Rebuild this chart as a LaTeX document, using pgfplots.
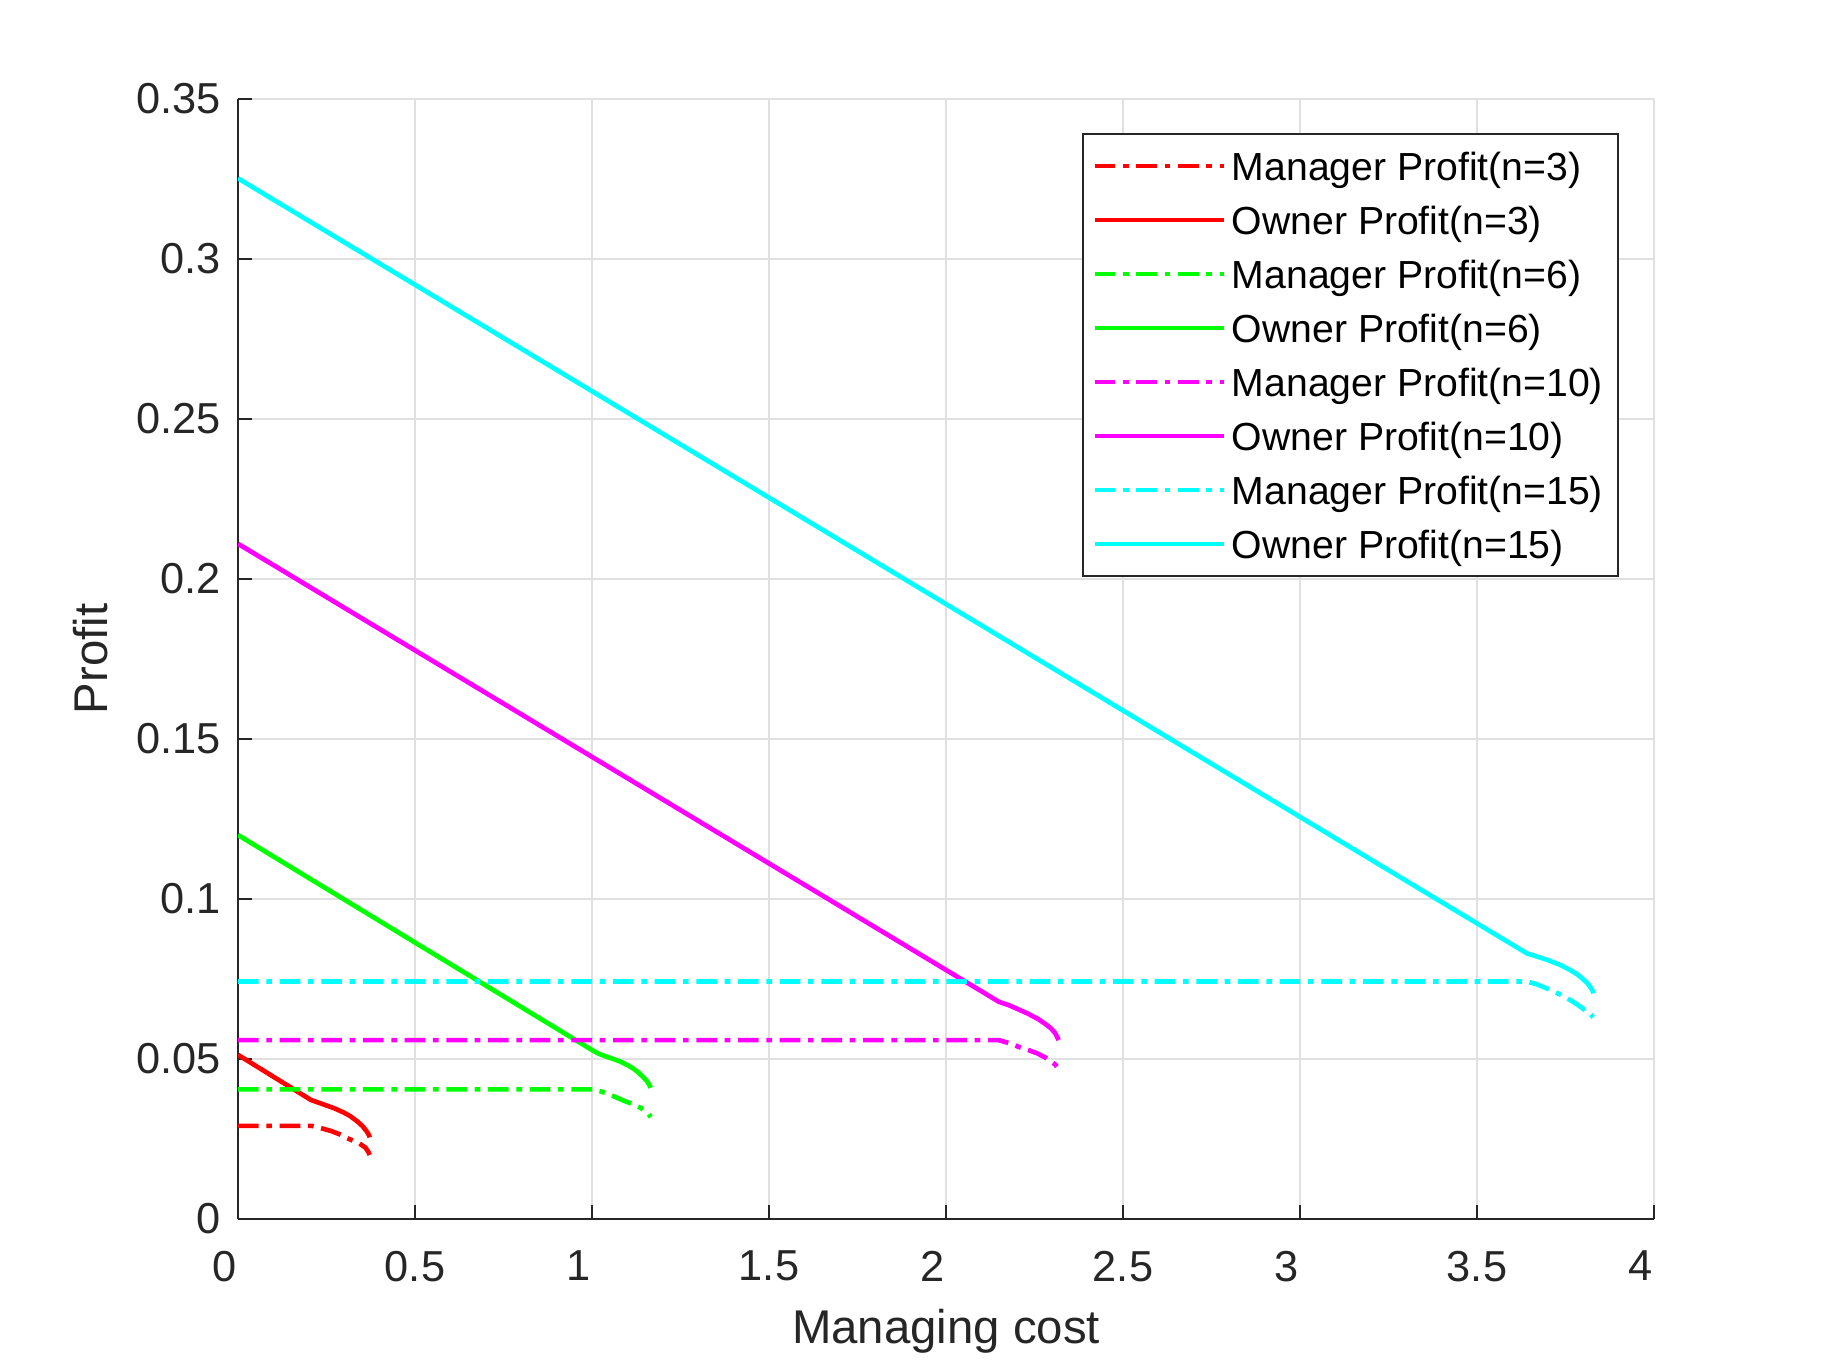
\documentclass[border=0pt]{standalone}
\usepackage{pgfplots}
\pgfplotsset{compat=1.18}
\usepackage{fontspec}
\setmainfont{Liberation Sans}

\definecolor{axgray}{gray}{0.15}
\definecolor{gridgray}{gray}{0.88}
\definecolor{mred}{rgb}{1,0,0}
\definecolor{mgreen}{rgb}{0,1,0}
\definecolor{mmag}{rgb}{1,0,1}
\definecolor{mcyan}{rgb}{0,1,1}

\pgfplotsset{
  mgr/.style={line width=1.4pt, dash pattern=on 6.2pt off 2.3pt on 1.7pt off 2.3pt},
  own/.style={line width=1.4pt, solid},
}

\begin{document}
\begin{tikzpicture}
\begin{axis}[
  scale only axis,
  width=424.8pt, height=336pt,
  xmin=0, xmax=4, ymin=0, ymax=0.35,
  xtick={0,0.5,1,1.5,2,2.5,3,3.5,4},
  xticklabels={0\hspace*{8pt},0.5,1\hspace*{8pt},1.5,2\hspace*{8pt},2.5,3\hspace*{8pt},3.5,4\hspace*{8pt}},
  ytick={0,0.05,0.1,0.15,0.2,0.25,0.3,0.35},
  yticklabels={0,0.05,0.1,0.15,0.2,0.25,0.3,0.35},
  scaled ticks=false,
  axis x line*=bottom, axis y line*=left,
  axis line style={axgray, line width=0.6pt, -},
  tick style={axgray, line width=0.6pt},
  major tick length=4.3pt, tick align=inside,
  grid=major,
  major grid style={gridgray, line width=0.6pt},
  ticklabel style={font=\fontsize{13}{15}\selectfont, text=axgray},
  yticklabel style={xshift=-1.7pt},
  xticklabel style={yshift=-6pt},
  xlabel={Managing cost},
  ylabel={Profit},
  label style={font=\fontsize{14.2}{17}\selectfont, text=axgray},
  xlabel style={at={(axis description cs:0.5,-0.0699)}, anchor=north},
  ylabel style={at={(axis description cs:-0.0837,0.5)}, anchor=south},
  legend cell align=left,
  legend style={at={(axis description cs:0.9753,0.9700)}, anchor=north east,
    draw=axgray, line width=0.6pt, fill=white,
    font=\fontsize{11.75}{14}\selectfont,
    inner xsep=2.8pt, inner ysep=1.6pt,
    nodes={inner xsep=1.7pt, inner ysep=2.3pt, text height=10.2pt, text depth=1.4pt}},
  legend image code/.code={\draw[#1] (0pt,0pt) -- (38.8pt,0pt);},
]
\addplot[mred, mgr] coordinates {(0,0.0291) (0.208,0.0291) (0.234,0.0284) (0.263,0.0275) (0.291,0.0263) (0.314,0.0250) (0.343,0.0236) (0.360,0.0223) (0.368,0.0210) (0.372,0.0200)};
\addlegendentry{Manager Profit(n=3)}
\addplot[mred, own] coordinates {(0,0.0513) (0.206,0.0372) (0.239,0.0359) (0.272,0.0346) (0.300,0.0332) (0.319,0.0320) (0.338,0.0304) (0.352,0.0290) (0.364,0.0273) (0.370,0.0262) (0.372,0.0255)};
\addlegendentry{Owner Profit(n=3)}
\addplot[mgreen, mgr] coordinates {(0,0.0405) (1.0,0.0405) (1.028,0.0398) (1.060,0.0384) (1.089,0.0370) (1.115,0.0359) (1.136,0.0348) (1.150,0.0338) (1.160,0.0328) (1.166,0.0318)};
\addlegendentry{Manager Profit(n=6)}
\addplot[mgreen, own] coordinates {(0,0.120) (1.0,0.0528) (1.020,0.0516) (1.042,0.0507) (1.060,0.0500) (1.080,0.0492) (1.100,0.0481) (1.118,0.0469) (1.132,0.0457) (1.145,0.0443) (1.155,0.0431) (1.162,0.0419) (1.166,0.0410)};
\addlegendentry{Owner Profit(n=6)}
\addplot[mmag, mgr] coordinates {(0,0.0559) (2.149,0.0559) (2.180,0.0549) (2.205,0.0538) (2.235,0.0527) (2.257,0.0518) (2.280,0.0505) (2.298,0.0492) (2.308,0.0483) (2.313,0.0476)};
\addlegendentry{Manager Profit(n=10)}
\addplot[mmag, own] coordinates {(0,0.211) (2.149,0.0679) (2.180,0.0667) (2.229,0.0643) (2.260,0.0625) (2.285,0.0606) (2.298,0.0594) (2.308,0.0581) (2.314,0.0569) (2.318,0.0559)};
\addlegendentry{Owner Profit(n=10)}
\addplot[mcyan, mgr] coordinates {(0,0.0742) (3.641,0.0742) (3.670,0.0733) (3.707,0.0716) (3.740,0.0699) (3.764,0.0684) (3.790,0.0665) (3.810,0.0648) (3.822,0.0638) (3.828,0.0630)};
\addlegendentry{Manager Profit(n=15)}
\addplot[mcyan, own] coordinates {(0,0.3252) (3.641,0.0830) (3.670,0.0820) (3.700,0.0809) (3.735,0.0794) (3.765,0.0777) (3.785,0.0763) (3.797,0.0752) (3.810,0.0739) (3.820,0.0725) (3.826,0.0714) (3.829,0.0705)};
\addlegendentry{Owner Profit(n=15)}
\end{axis}
\path ([shift={(-71.4pt,-45.3pt)}]current axis.south west) rectangle ([shift={(51.9pt,29.7pt)}]current axis.north east);
\end{tikzpicture}
\end{document}
